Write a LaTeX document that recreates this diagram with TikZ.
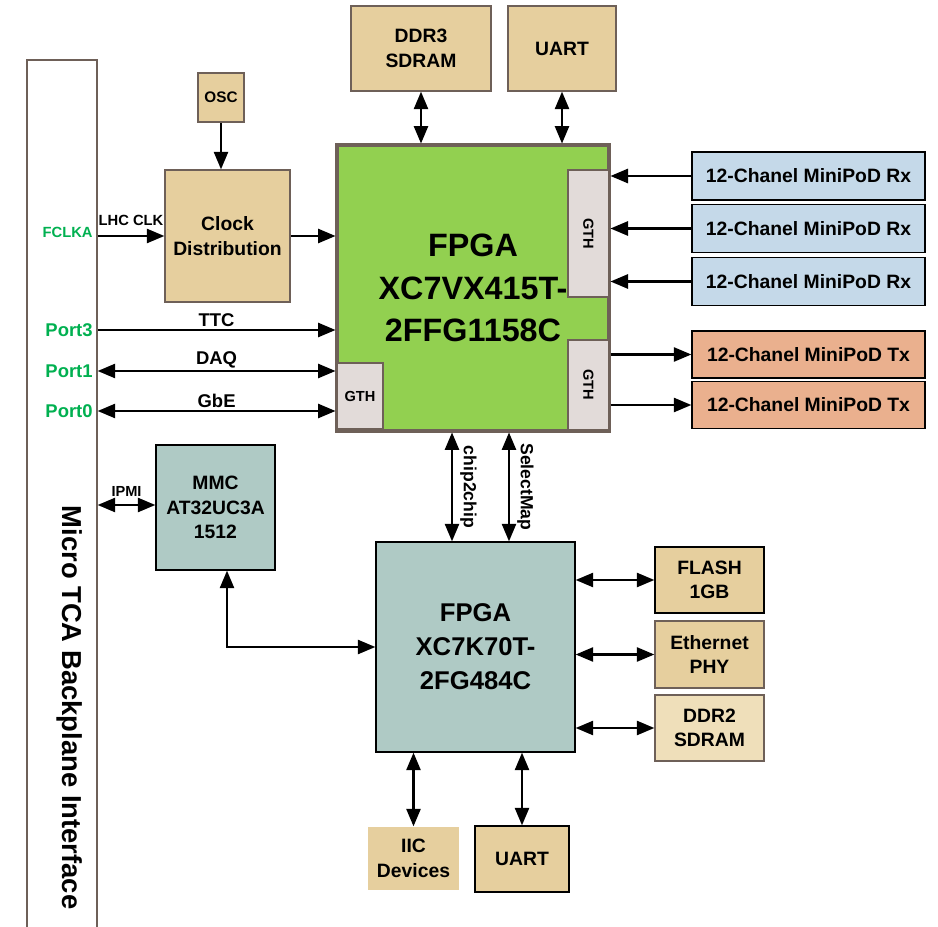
\documentclass[tikz,border=0pt]{standalone}
\usepackage{fontspec}
\setmainfont{Liberation Sans}
\usepackage{tikz}
\usetikzlibrary{arrows,positioning}
\definecolor{tanbox}{HTML}{E6CF9E}
\definecolor{edgebrown}{HTML}{6E6058}
\definecolor{fpgagreen}{HTML}{92D050}
\definecolor{gthgrey}{HTML}{E2DBD9}
\definecolor{rxblue}{HTML}{C5D9E9}
\definecolor{txsalmon}{HTML}{EAB08E}
\definecolor{mmcteal}{HTML}{AFCAC5}
\definecolor{ddrlight}{HTML}{EFDFBA}
\definecolor{portgreen}{HTML}{00B050}
\newcommand{\boldsz}[2]{\fontsize{#1}{#2}\selectfont\bfseries}

\begin{document}
\begin{tikzpicture}[> = triangle 45,
    box/.style = {draw = edgebrown, line width = 0.9pt, fill = tanbox, align = center, inner sep = 1pt, font = \boldsz{11}{14}},
    gth/.style = {box, fill = gthgrey, line width = 0.6pt, font = \boldsz{8.3}{10}},
    link/.style = {line width = 1.3pt},
    port/.style = {text = portgreen, anchor = east, inner sep = 0pt, font = \boldsz{10.5}{13}},
    lbl/.style = {inner sep = 1pt, font = \boldsz{10.5}{13}}]
  \useasboundingbox (0,0) rectangle (18.76,-18.54);
  \node at (1.24,-9.95) [draw = edgebrown, line width = 0.9pt, minimum width = 1.4cm, minimum height = 17.5cm] (bp) {};
  \node at (1.40,-14.15) [rotate = -90, font = \boldsz{15.6}{18}] (bptxt) {Micro TCA Backplane Interface};
  \node at (4.42,-1.95) [box, minimum width = 0.92cm, minimum height = 0.98cm, font = \boldsz{8.7}{10}] (osc) {OSC};
  \node at (4.55,-4.72) [box, minimum width = 2.5cm, minimum height = 2.64cm] (clk) {Clock\\Distribution};
  \node at (9.46,-5.76) [box, fill = fpgagreen, line width = 1.8pt, minimum width = 5.44cm, minimum height = 5.72cm, font = \boldsz{18.4}{24}] (fpga) {FPGA\\XC7VX415T-\\2FFG1158C};
  \node at (11.77,-4.67) [gth, rotate = -90, minimum width = 2.54cm, minimum height = 0.82cm] (gthrx) {GTH};
  \node at (11.77,-7.70) [gth, rotate = -90, minimum width = 1.8cm, minimum height = 0.82cm] (gthtx) {GTH};
  \node at (7.20,-7.92) [gth, minimum width = 0.92cm, minimum height = 1.32cm] (gthio) {GTH};
  \node at (8.42,-0.97) [box, minimum width = 2.8cm, minimum height = 1.7cm] (ddr3) {DDR3\\SDRAM};
  \node at (11.24,-0.97) [box, minimum width = 2.16cm, minimum height = 1.7cm] (uarttop) {UART};
  \node at (16.17,-3.52) [box, draw = black, fill = rxblue, minimum width = 4.66cm, minimum height = 0.96cm] (rx1) {12-Chanel MiniPoD Rx};
  \node at (16.17,-4.57) [box, draw = black, fill = rxblue, minimum width = 4.66cm, minimum height = 0.96cm] (rx2) {12-Chanel MiniPoD Rx};
  \node at (16.17,-5.63) [box, draw = black, fill = rxblue, minimum width = 4.66cm, minimum height = 0.96cm] (rx3) {12-Chanel MiniPoD Rx};
  \node at (16.17,-7.09) [box, draw = black, fill = txsalmon, minimum width = 4.66cm, minimum height = 0.94cm] (tx1) {12-Chanel MiniPoD Tx};
  \node at (16.17,-8.10) [box, draw = black, fill = txsalmon, minimum width = 4.66cm, minimum height = 0.94cm] (tx2) {12-Chanel MiniPoD Tx};
  \node at (4.31,-10.15) [box, draw = black, fill = mmcteal, minimum width = 2.38cm, minimum height = 2.5cm] (mmc) {MMC\\AT32UC3A\\1512};
  \node at (9.51,-12.94) [box, draw = black, fill = mmcteal, minimum width = 3.98cm, minimum height = 4.2cm, font = \boldsz{14.6}{19.3}] (fpgb) {FPGA\\XC7K70T-\\2FG484C};
  \node at (14.19,-11.6) [box, draw = black, minimum width = 2.18cm, minimum height = 1.32cm] (flash) {FLASH\\1GB};
  \node at (14.19,-13.09) [box, minimum width = 2.18cm, minimum height = 1.34cm] (eth) {Ethernet\\PHY};
  \node at (14.19,-14.56) [box, fill = ddrlight, minimum width = 2.18cm, minimum height = 1.32cm] (ddr2) {DDR2\\SDRAM};
  \node at (8.27,-17.17) [box, draw = none, minimum width = 1.82cm, minimum height = 1.26cm] (iic) {IIC\\Devices};
  \node at (10.44,-17.18) [box, draw = black, minimum width = 1.88cm, minimum height = 1.32cm] (uartbot) {UART};
  \node at (1.86,-4.64) [port, font = \boldsz{8.4}{10}] (fclka) {FCLKA};
  \node at (1.86,-6.60) [port] (p3) {Port3};
  \node at (1.86,-7.42) [port] (p1) {Port1};
  \node at (1.86,-8.22) [port] (p0) {Port0};
  \draw[->, link] (osc.south) -- (osc.south |- clk.north);
  \draw[->, link] (clk.west -| bp.east) -- (clk.west) node[midway, above = 4pt, lbl, font = \boldsz{8.4}{10}] {LHC CLK};
  \draw[->, link] (clk.east) -- (clk.east -| fpga.west);
  \draw[<->, link] (ddr3.south) -- (ddr3.south |- fpga.north);
  \draw[<->, link] (uarttop.south) -- (uarttop.south |- fpga.north);
  \draw[->, link] (rx1.west) -- (rx1.west -| fpga.east);
  \draw[->, link] (rx2.west) -- (rx2.west -| fpga.east);
  \draw[->, link] (rx3.west) -- (rx3.west -| fpga.east);
  \draw[->, link] (tx1.west -| fpga.east) -- (tx1.west);
  \draw[->, link] (tx2.west -| fpga.east) -- (tx2.west);
  \draw[->, link] (p3.east -| bp.east) -- (p3.east -| fpga.west) node[midway, above, lbl] {TTC};
  \draw[<->, link] (p1.east -| bp.east) -- (p1.east -| fpga.west) node[midway, above, lbl] {DAQ};
  \draw[<->, link] (p0.east -| bp.east) -- (p0.east -| fpga.west) node[midway, above, lbl] {GbE};
  \draw[<->, link] ([yshift = 0.05cm]mmc.west -| bp.east) -- ([yshift = 0.05cm]mmc.west) node[midway, above = 3pt, lbl, font = \boldsz{8.3}{10}] {IPMI};
  \draw[<->, link] ([xshift = 0.23cm]mmc.south) |- (fpgb.west);
  \draw[<->, link] ([xshift = -0.47cm]fpgb.north) -- ([xshift = -0.47cm]fpgb.north |- fpga.south) node[midway, rotate = -90, anchor = south, inner sep = 4pt, font = \boldsz{10}{12}] {chip2chip};
  \draw[<->, link] ([xshift = 0.67cm]fpgb.north) -- ([xshift = 0.67cm]fpgb.north |- fpga.south) node[midway, rotate = -90, anchor = south, inner sep = 4pt, font = \boldsz{10}{12}] {SelectMap};
  \draw[<->, link] (flash.west -| fpgb.east) -- (flash.west);
  \draw[<->, link] (eth.west -| fpgb.east) -- (eth.west);
  \draw[<->, link] (ddr2.west -| fpgb.east) -- (ddr2.west);
  \draw[<->, link] (iic.north |- fpgb.south) -- (iic.north);
  \draw[<->, link] (uartbot.north |- fpgb.south) -- (uartbot.north);
\end{tikzpicture}
\end{document}
